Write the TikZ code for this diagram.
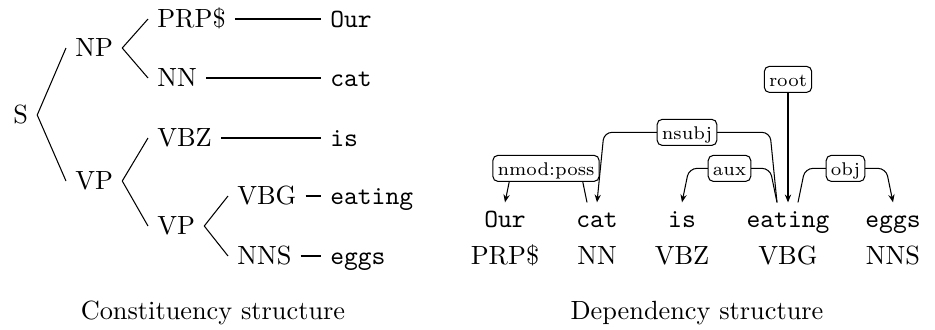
\documentclass[tikz,border=0pt]{standalone}
\usetikzlibrary{arrows.meta,calc}
\begin{document}
\begin{tikzpicture}[x=0.38pt,y=-0.38pt,
  phrase/.style={anchor=base west, text height=6.83pt, text depth=0pt},
  leaf/.style={anchor=base west, font=\ttfamily, text height=6.83pt, text depth=0pt},
  word/.style={anchor=base, font=\ttfamily, text height=6.2pt, text depth=1.5pt},
  postag/.style={anchor=base},
  caption/.style={anchor=base},
  dep/.style={-{Stealth[length=3pt,width=2.4pt]}, rounded corners=3pt},
  lab/.style={draw, fill=white, rounded corners=2pt, font=\scriptsize,
    inner xsep=1.8pt, inner ysep=1.2pt, text height=1.5ex, text depth=0.25ex}]
\useasboundingbox (0,0) rectangle (935,330);

% ---- constituency tree ----
\node[phrase] (S)   at (4,124)   {S};
\node[phrase] (NP)  at (66,57)   {NP};
\node[phrase] (VP1) at (66,190)  {VP};
\node[phrase] (PRP) at (148,28)  {PRP\$};
\node[phrase] (NN)  at (148,87)  {NN};
\node[phrase] (VBZ) at (148,147) {VBZ};
\node[phrase] (VP2) at (148,235) {VP};
\node[phrase] (VBG) at (228,205) {VBG};
\node[phrase] (NNS) at (228,265) {NNS};
\node[leaf] (lOur)    at (321,28)  {Our};
\node[leaf] (lcat)    at (321,87)  {cat};
\node[leaf] (lis)     at (321,147) {is};
\node[leaf] (leating) at (321,205) {eating};
\node[leaf] (leggs)   at (321,265) {eggs};

\draw (S.east) -- (NP.west);
\draw (S.east) -- (VP1.west);
\draw (NP.east) -- (PRP.west);
\draw (NP.east) -- (NN.west);
\draw (VP1.east) -- (VBZ.west);
\draw (VP1.east) -- (VP2.west);
\draw (VP2.east) -- (VBG.west);
\draw (VP2.east) -- (NNS.west);
\draw (PRP.east) -- (lOur.west);
\draw (NN.east) -- (lcat.west);
\draw (VBZ.east) -- (lis.west);
\draw (VBG.east) -- (leating.west);
\draw (NNS.east) -- (leggs.west);

\node[caption] (capC) at (213,320) {Constituency structure};

% ---- dependency structure ----
\node[word] (Our)    at (505,228) {Our};
\node[word] (cat)    at (597,228) {cat};
\node[word] (is)     at (682,228) {is};
\node[word] (eating) at (788,228) {eating};
\node[word] (eggs)   at (893,228) {eggs};
\node[postag] (pOur)    at (505,265) {PRP\$};
\node[postag] (pcat)    at (597,265) {NN};
\node[postag] (pis)     at (682,265) {VBZ};
\node[postag] (peating) at (788,265) {VBG};
\node[postag] (peggs)   at (893,265) {NNS};

\draw[dep] ($(cat.north)+(-10,0)$) -- ++(-7,-34)
  -- node[lab]{nmod:poss} ($(Our.north)+(7,-34)$) -- (Our.north);
\draw[dep] ($(eating.north)+(-11,0)$) -- ++(-7,-70)
  -- node[lab]{nsubj} ($(cat.north)+(7,-70)$) -- (cat.north);
\draw[dep] ($(eating.north)+(-11,0)$) -- ++(-7,-34)
  -- node[lab]{aux} ($(is.north)+(7,-34)$) -- (is.north);
\draw[dep] ($(eating.north)+(10,0)$) -- ++(7,-34)
  -- node[lab]{obj} ($(eggs.north)+(-7,-34)$) -- (eggs.north);
\node[lab] (root) at ($(eating.north)+(0,-123)$) {root};
\draw[dep] (root) -- (eating.north);

\node[caption] (capD) at (697,320) {Dependency structure};
\end{tikzpicture}
\end{document}
